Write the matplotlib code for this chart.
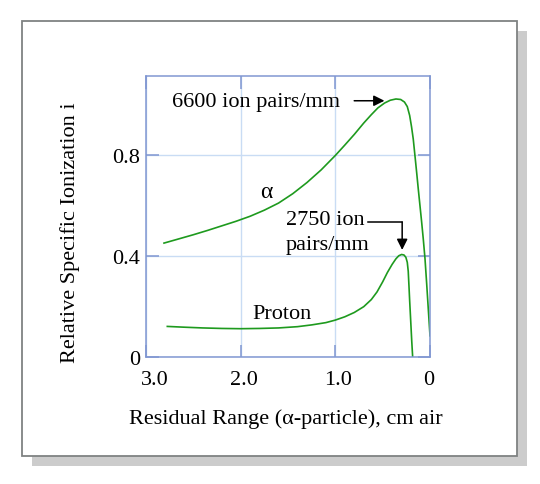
import numpy as np
import matplotlib.pyplot as plt
import matplotlib.transforms as mtransforms
from matplotlib.patches import Rectangle

plt.rcParams['font.family'] = ['Liberation Serif', 'DejaVu Serif']

# residual range (cm air) and relative specific ionization
alpha_range = [2.81, 2.65, 2.5, 2.35, 2.2, 2.05, 1.9, 1.75, 1.6, 1.45, 1.3, 1.15,
               1.0, 0.9, 0.8, 0.7, 0.62, 0.55, 0.48, 0.42, 0.36, 0.31, 0.27, 0.24,
               0.215, 0.195, 0.177, 0.16, 0.141, 0.124, 0.106, 0.088, 0.071, 0.053,
               0.035, 0.018, 0.0]
alpha_ion = [0.451, 0.468, 0.484, 0.501, 0.519, 0.537, 0.557, 0.581, 0.609, 0.646,
             0.690, 0.740, 0.797, 0.838, 0.880, 0.925, 0.958, 0.985, 1.004, 1.015,
             1.020, 1.018, 1.008, 0.990, 0.955, 0.910, 0.862, 0.800, 0.730, 0.665,
             0.599, 0.533, 0.467, 0.390, 0.290, 0.190, 0.085]

proton_range = [2.775, 2.6, 2.4, 2.2, 2.0, 1.8, 1.6, 1.4, 1.25, 1.1, 1.0, 0.9, 0.8,
                0.7, 0.62, 0.56, 0.5, 0.45, 0.4, 0.36, 0.33, 0.3, 0.275, 0.255,
                0.24, 0.23, 0.222, 0.215, 0.207, 0.2, 0.193, 0.183]
proton_ion = [0.122, 0.119, 0.116, 0.114, 0.113, 0.114, 0.116, 0.121, 0.128, 0.137,
              0.147, 0.160, 0.177, 0.200, 0.228, 0.258, 0.298, 0.335, 0.367, 0.389,
              0.401, 0.406, 0.404, 0.395, 0.375, 0.340, 0.280, 0.225, 0.167, 0.116,
              0.065, 0.0]

x_ticks = [3.0, 2.0, 1.0, 0.0]
x_labels = ['3.0', '2.0', '1.0', '0']
y_ticks = [0.0, 0.4, 0.8]
y_labels = ['0', '0.4', '0.8']

green = '#1e9a1e'
blue = '#8197d2'
fs = 16

fig = plt.figure(figsize=(5.4, 4.85), dpi=100)

# shadow + white panel behind the chart
fig.patches.append(Rectangle((0.0598, 0.0377), 0.9156, 0.8957, transform=fig.transFigure,
                             facecolor='#cccccc', edgecolor='none', zorder=0))
fig.patches.append(Rectangle((0.0413, 0.0584), 0.9156, 0.8957, transform=fig.transFigure,
                             facecolor='white', edgecolor='#7f8282', linewidth=1.3, zorder=1))

ax = fig.add_axes([0.2704, 0.2612, 0.5259, 0.5807])
ax.set_zorder(5)
ax.set_facecolor('none')

ax.plot(alpha_range, alpha_ion, color=green, lw=1.2)
ax.plot(proton_range, proton_ion, color=green, lw=1.2)

ax.set_xlim(3.0, 0.0)
ax.set_ylim(0.0, 1.112)
ax.set_xticks(x_ticks, x_labels)
ax.set_yticks(y_ticks, y_labels)
ax.grid(True, color='#c9dcf4', lw=1.0)
ax.tick_params(direction='in', length=9, width=1.1, color=blue, labelsize=fs,
               top=True, right=True)
ax.tick_params(axis='x', pad=9)
ax.tick_params(axis='y', pad=4)
for s in ax.spines.values():
    s.set_color(blue)
    s.set_linewidth(1.1)

# the original nudges the x tick labels a little to the right
for tick, dx in zip(ax.xaxis.get_major_ticks(), [6, 2.5, 2, -1]):
    off = mtransforms.ScaledTranslation(dx / 72, 0, fig.dpi_scale_trans)
    tick.label1.set_transform(tick.label1.get_transform() + off)

ax.set_xlabel('Residual Range (α-particle), cm air', fontsize=fs)
ax.xaxis.label.set_va('baseline')
ax.xaxis.set_label_coords(0.493, -0.233)
ax.set_ylabel('Relative Specific Ionization i', fontsize=fs)
ax.yaxis.label.set_va('baseline')
ax.yaxis.set_label_coords(-0.25, 0.445)

# annotations
ax.text(2.722, 0.993, '6600 ion pairs/mm', fontsize=fs, va='baseline', ha='left')
ax.annotate('', xy=(0.452, 1.013), xytext=(0.83, 1.013),
            arrowprops=dict(arrowstyle='-|>', color='black', lw=1.1, mutation_scale=16))
ax.text(1.52, 0.526, '2750 ion', fontsize=fs, va='baseline', ha='left')
ax.text(1.52, 0.428, 'pairs/mm', fontsize=fs, va='baseline', ha='left')
ax.plot([0.654, 0.294], [0.533, 0.533], color='black', lw=1.1)
ax.annotate('', xy=(0.294, 0.424), xytext=(0.294, 0.534),
            arrowprops=dict(arrowstyle='-|>', color='black', lw=1.1, mutation_scale=16,
                            shrinkA=0, shrinkB=0))
ax.text(1.725, 0.654, 'α', fontsize=fs + 1, ha='center', va='center')
ax.text(1.564, 0.155, 'Proton', fontsize=fs, ha='center', va='baseline')

fig.savefig('out.png', dpi=100)
